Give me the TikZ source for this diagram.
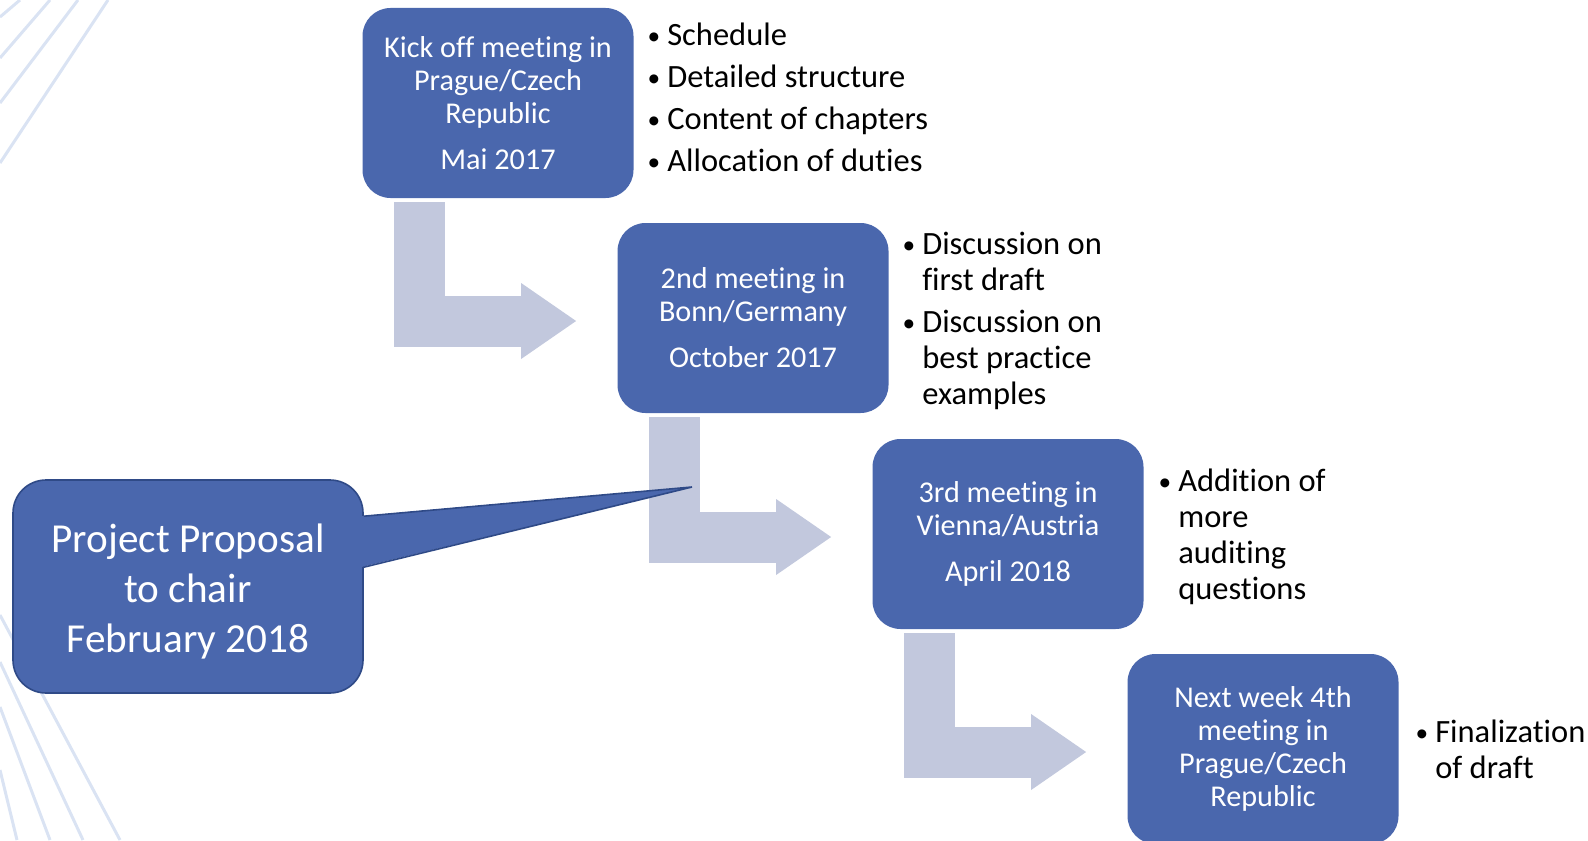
\documentclass[tikz,border=0pt]{standalone}
\usepackage{fontspec}
\setmainfont{Carlito}[Ligatures=NoCommon]
\usetikzlibrary{calc,positioning,arrows.meta}

\definecolor{boxblue}{HTML}{4A67AD}
\definecolor{boxedge}{HTML}{2F4A87}
\definecolor{arrowgray}{HTML}{C2C8DD}
\definecolor{bgline}{HTML}{DAE3F3}

\newcommand{\itm}{\makebox[9pt][l]{\hspace{-0.8pt}\raisebox{0.5pt}{\scalebox{0.78}{\textbullet}}}}

\begin{document}
\begin{tikzpicture}[x=0.5pt,y=-0.5pt,
  meeting/.style={fill=boxblue,rounded corners=14pt,minimum width=135.5pt,minimum height=95pt,
    inner sep=0pt,align=center,text=white,font=\fontsize{15.1}{16.5}\selectfont},
  proposal/.style={fill=boxblue,draw=boxedge,line width=0.8pt,rounded corners=16.5pt,
    minimum width=175pt,minimum height=106.5pt,align=center,text=white,
    font=\fontsize{20.6}{25}\selectfont},
  notes/.style={inner sep=0pt,font=\fontsize{16.25}{18}\selectfont},
  bent/.style={draw=arrowgray,line width=25.5pt,
    -{Triangle[length=27.5pt,width=38pt,line width=0pt]}},
  deco/.style={draw=bgline,line width=1.5pt}]
\useasboundingbox (0,0) rectangle (1588,840);

% background strokes
\draw[deco] (20,0) -- (0,17);
\draw[deco] (50,0) -- (0,58);
\draw[deco] (78,0) -- (0,103);
\draw[deco] (108,0) -- (0,163);
\draw[deco] (0,615) -- (120,840);
\draw[deco] (0,662) -- (83,840);
\draw[deco] (0,707) -- (50,840);
\draw[deco] (0,770) -- (17,840);

% meetings
\node[meeting] (k1) at (498,103) {Kick off meeting in\\Prague/Czech\\Republic\\[6.5pt]Mai 2017};
\node[meeting] (k2) at (753,318) {2nd meeting in\\Bonn/Germany\\[6.5pt]October 2017};
\node[meeting] (k3) at (1008,534) {3rd meeting in\\Vienna/Austria\\[6.5pt]April 2018};
\node[meeting] (k4) at (1263,749) {Next week 4th\\meeting in\\Prague/Czech\\Republic};

% bent arrows
\draw[bent] ($(k1.south west)+(57.5,4)$) |- ($(k2.west)+(-41,3)$);
\draw[bent] ($(k2.south west)+(57.5,4)$) |- ($(k3.west)+(-41,3)$);
\draw[bent] ($(k3.south west)+(57.5,4)$) |- ($(k4.west)+(-41,3)$);

% callout
\node[proposal] (prop) at (188,586.5) {\rule{0pt}{19.5pt}Project Proposal\\to chair\\February 2018};
\coordinate (tip) at (692,487);
\fill[boxblue] ($(prop.north east)+(-3,37)$) -- (tip) -- ($(prop.north east)+(-3,88)$) -- cycle;
\draw[boxedge,line width=0.8pt] ($(prop.north east)+(0,37)$) -- (tip) -- ($(prop.north east)+(0,88)$);

% notes
\node[notes,right=7.5pt of k1,yshift=1pt] (n1) {\begin{tabular}{@{}l@{}l@{}}
\itm & Schedule\\[3pt]
\itm & Detailed structure\\[3pt]
\itm & Content of chapters\\[3pt]
\itm & Allocation of duties
\end{tabular}};
\node[notes,right=7.5pt of k2,yshift=-2pt] (n2) {\begin{tabular}{@{}l@{}l@{}}
\itm & Discussion on\\
     & first draft\\[3pt]
\itm & Discussion on\\
     & best practice\\
     & examples
\end{tabular}};
\node[notes,right=8pt of k3,yshift=-2pt] (n3) {\begin{tabular}{@{}l@{}l@{}}
\itm & Addition of\\
     & more\\
     & auditing\\
     & questions
\end{tabular}};
\node[notes,right=9pt of k4,yshift=-2pt] (n4) {\begin{tabular}{@{}l@{}l@{}}
\itm & Finalization\\
     & of draft
\end{tabular}};
\end{tikzpicture}
\end{document}
